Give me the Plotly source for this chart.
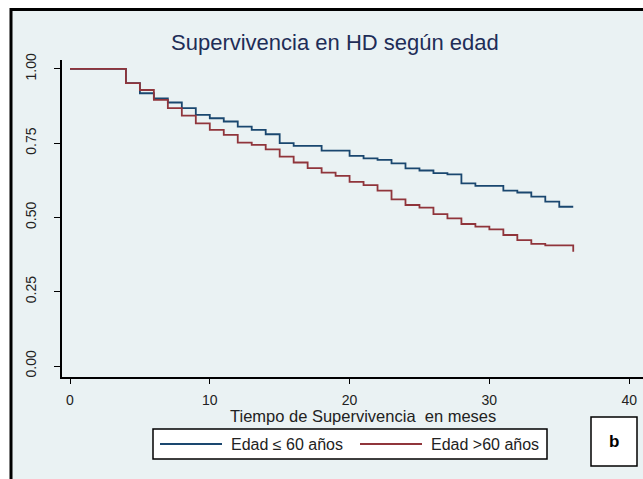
import plotly.graph_objects as go

# ---- data ----
# Kaplan-Meier survival, edad <= 60
surv_le60_t = [0, 4, 5, 6, 7, 8, 9, 10, 11, 12, 13, 14, 15, 16, 18, 20, 21, 22, 23, 24,
               25, 26, 27, 28, 29, 31, 32, 33, 34, 35, 36]
surv_le60 = [1.0, 0.952, 0.918, 0.901, 0.887, 0.868, 0.845, 0.834, 0.823, 0.806, 0.795,
             0.780, 0.750, 0.741, 0.725, 0.707, 0.699, 0.694, 0.682, 0.665, 0.658, 0.649,
             0.645, 0.615, 0.606, 0.590, 0.584, 0.570, 0.553, 0.536, 0.536]
# Kaplan-Meier survival, edad > 60
surv_gt60_t = [0, 4, 5, 6, 7, 8, 9, 10, 11, 12, 13, 14, 15, 16, 17, 18, 19, 20, 21, 22,
               23, 24, 25, 26, 27, 28, 29, 30, 31, 32, 33, 34, 36, 36]
surv_gt60 = [1.0, 0.952, 0.929, 0.896, 0.868, 0.843, 0.817, 0.795, 0.778, 0.752, 0.744,
             0.729, 0.705, 0.685, 0.666, 0.651, 0.640, 0.620, 0.609, 0.590, 0.561, 0.542,
             0.533, 0.511, 0.497, 0.478, 0.469, 0.460, 0.441, 0.424, 0.411, 0.406, 0.406,
             0.385]

series_names = ["Edad \u2264 60 a\u00f1os", "Edad >60 a\u00f1os"]
series_colors = ["#1a476f", "#90353b"]
x_ticks = [0, 10, 20, 30, 40]
y_ticks = [0.0, 0.25, 0.5, 0.75, 1.0]
y_ticklabels = ["0.00", "0.25", "0.50", "0.75", "1.00"]
title_text = "Supervivencia en HD seg\u00fan edad"
xaxis_title = "Tiempo de Supervivencia  en meses"
panel_label = "b"

FONT = "Liberation Sans, Arial, sans-serif"
BG = "#eaf2f3"

W, H = 643, 479
AX_L, AX_T, AX_B = 62, 60, 377          # plot area edges in window pixels
L, T, B, R = AX_L, AX_T, H - AX_B, 0
PW, PH = W - L - R, H - T - B


def px_x(X):
    return (X - L) / PW


def px_y(Y):
    return (AX_B - Y) / PH


fig = go.Figure()
fig.add_trace(go.Scatter(x=surv_le60_t, y=surv_le60, mode="lines", line_shape="hv",
                         line=dict(color=series_colors[0], width=1.8),
                         name=series_names[0], showlegend=False))
fig.add_trace(go.Scatter(x=surv_gt60_t, y=surv_gt60, mode="lines", line_shape="hv",
                         line=dict(color=series_colors[1], width=1.8),
                         name=series_names[1], showlegend=False))

shapes = []
# outer graph region with black frame
shapes.append(dict(type="rect", xref="paper", yref="paper",
                   x0=px_x(11), x1=px_x(720), y0=px_y(9.5), y1=px_y(720),
                   fillcolor=BG, line=dict(color="black", width=3), layer="below"))
# legend box
shapes.append(dict(type="rect", xref="paper", yref="paper",
                   x0=px_x(153), x1=px_x(547), y0=px_y(429), y1=px_y(459),
                   fillcolor="white", line=dict(color="black", width=1.5)))
# legend swatches
for (xa, xb), c in zip([(160, 222), (360, 422)], series_colors):
    shapes.append(dict(type="line", xref="paper", yref="paper",
                       x0=px_x(xa), x1=px_x(xb), y0=px_y(444), y1=px_y(444),
                       line=dict(color=c, width=1.8)))
# panel label box
shapes.append(dict(type="rect", xref="paper", yref="paper",
                   x0=px_x(591), x1=px_x(637), y0=px_y(417), y1=px_y(466),
                   fillcolor="white", line=dict(color="black", width=1.5)))

annotations = [
    dict(text=title_text, xref="paper", yref="paper", x=px_x(335), y=px_y(43),
         showarrow=False, xanchor="center", yanchor="middle",
         font=dict(family=FONT, size=22, color="#1e2d57")),
    dict(text=xaxis_title, xref="paper", yref="paper", x=px_x(363), y=px_y(416),
         showarrow=False, xanchor="center", yanchor="middle",
         font=dict(family=FONT, size=16.5, color="#222222")),
    dict(text=series_names[0], xref="paper", yref="paper", x=px_x(229), y=px_y(444),
         showarrow=False, xanchor="left", yanchor="middle",
         font=dict(family=FONT, size=16, color="#222222")),
    dict(text=series_names[1], xref="paper", yref="paper", x=px_x(429), y=px_y(444),
         showarrow=False, xanchor="left", yanchor="middle",
         font=dict(family=FONT, size=16, color="#222222")),
    dict(text="<b>" + panel_label + "</b>", xref="paper", yref="paper",
         x=px_x(614), y=px_y(441), showarrow=False, xanchor="center", yanchor="middle",
         font=dict(family=FONT, size=17, color="black")),
]

fig.update_layout(
    width=W, height=H,
    margin=dict(l=L, r=R, t=T, b=B, pad=0),
    paper_bgcolor="white",
    plot_bgcolor="white",
    shapes=shapes,
    annotations=annotations,
    showlegend=False,
)
fig.update_xaxes(
    range=[-0.572, 40.99], tickvals=x_ticks, ticktext=[str(v) for v in x_ticks],
    showgrid=False, zeroline=False, showline=True, linecolor="black", linewidth=2,
    ticks="outside", ticklen=5, tickwidth=1, tickcolor="black", automargin=False,
    tickfont=dict(family=FONT, size=14, color="#222222"), ticklabelstandoff=4,
)
fig.update_yaxes(
    range=[-0.037, 1.030], tickvals=y_ticks, ticktext=y_ticklabels,
    showgrid=True, gridcolor=BG, gridwidth=1.2, zeroline=False,
    showline=True, linecolor="black", linewidth=2, automargin=False,
    ticks="outside", ticklen=6, tickwidth=1, tickcolor="black", tickangle=-90,
    tickfont=dict(family=FONT, size=14, color="#222222"), ticklabelstandoff=12,
)

# remove the page's default body margin / scrollbars so the figure fills the window
page_fix = ("document.body.style.margin='0';document.body.style.padding='0';"
            "document.body.style.overflow='hidden';"
            "document.documentElement.style.overflow='hidden';")

fig.write_html("out.html", post_script=page_fix,
               config={"displayModeBar": False, "staticPlot": True})
